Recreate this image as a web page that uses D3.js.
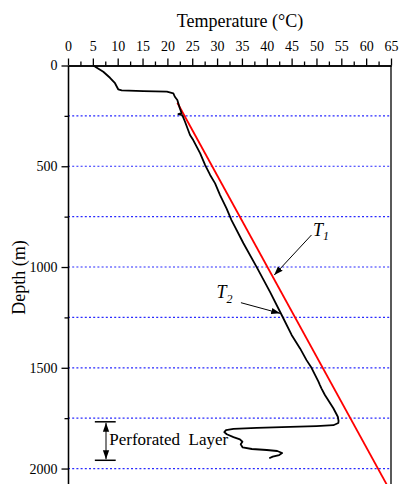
<!DOCTYPE html>
<html>
<head>
<meta charset="utf-8">
<script src="https://cdn.jsdelivr.net/npm/d3@7"></script>
<style>
  body { margin: 0; background: #fff; }
  svg { display: block; font-family: "Liberation Serif", "Times New Roman", serif; }
  .axis text { font-size: 14px; fill: #000; font-family: "Liberation Serif", "Times New Roman", serif; }
  .axis path, .axis line { stroke: #000; stroke-width: 1.3; }
</style>
</head>
<body>
<div id="chart"></div>
<script>
// axis ticks
const tempTicks = [0, 5, 10, 15, 20, 25, 30, 35, 40, 45, 50, 55, 60, 65];
const tempMinor = [2.5, 7.5, 12.5, 17.5, 22.5, 27.5, 32.5, 37.5, 42.5, 47.5, 52.5, 57.5, 62.5];
const depthTicks = [0, 500, 1000, 1500, 2000];
const depthMinor = [250, 750, 1250, 1750];
const gridDepths = [250, 500, 750, 1000, 1250, 1500, 1750, 2000];

// T1 - red straight gradient line
const t1Depth = [185, 2100];
const t1Temp = [22.0, 64.6];

// T2 - measured black profile
const t2Depth = [0, 11, 31, 61, 88, 118, 123, 127, 130, 138, 155, 171, 212, 236, 241, 246, 279, 345,
  370, 436, 494, 543, 585, 643, 709, 767, 882, 1002, 1123, 1238, 1337, 1404, 1462, 1500, 1569, 1586,
  1602, 1635, 1701, 1743, 1764, 1774, 1785, 1789, 1793, 1798, 1803, 1809, 1819, 1830, 1844, 1855,
  1867, 1880, 1895, 1903, 1908, 1913, 1923, 1933, 1941, 1949];
const t2Temp = [5.1, 5.8, 7.1, 8.45, 9.46, 10.1, 10.8, 15.15, 19.9, 21.2, 21.5, 22.0, 22.5, 22.85, 22.2, 23.0, 23.55, 24.55,
  25.2, 26.6, 27.6, 28.6, 29.6, 30.6, 31.9, 32.9, 35.3, 38.0, 40.65, 43.0, 45.0, 46.7, 48.0, 49.0, 50.4, 50.7,
  51.0, 51.7, 53.4, 54.3, 54.45, 54.4, 53.4, 50.0, 44.7, 38.0, 33.3, 31.8, 31.45, 31.95, 33.3, 34.6,
  35.1, 34.75, 35.15, 37.0, 40.0, 42.1, 43.1, 42.5, 41.2, 40.5];

const width = 399, height = 484;
const plotLeft = 68, plotRight = 391, plotTop = 65.5;

const svg = d3.select('#chart').append('svg')
  .attr('width', width)
  .attr('height', height);

const x = d3.scaleLinear().domain([0, 65]).range([plotLeft, plotRight]);
const y = d3.scaleLinear().domain([0, 2100]).range([plotTop, 488.7]);

// arrow head
svg.append('defs').append('marker')
  .attr('id', 'arrow')
  .attr('viewBox', '0 0 10 10')
  .attr('refX', 10).attr('refY', 5)
  .attr('markerWidth', 9).attr('markerHeight', 9)
  .attr('markerUnits', 'userSpaceOnUse')
  .attr('orient', 'auto-start-reverse')
  .append('path')
  .attr('d', 'M0,1.5 L10,5 L0,8.5 Z')
  .attr('fill', '#000');

// dotted grid
svg.append('g')
  .selectAll('line')
  .data(gridDepths)
  .join('line')
  .attr('x1', plotLeft).attr('x2', plotRight)
  .attr('y1', d => y(d)).attr('y2', d => y(d))
  .attr('stroke', '#2a2aff')
  .attr('stroke-width', 1.2)
  .attr('stroke-dasharray', '2,2.2');

// right border
svg.append('line')
  .attr('x1', plotRight).attr('x2', plotRight)
  .attr('y1', plotTop).attr('y2', height)
  .attr('stroke', '#000').attr('stroke-width', 1.3);

// axes
svg.append('g')
  .attr('class', 'axis')
  .attr('transform', `translate(0,${plotTop})`)
  .call(d3.axisTop(x).tickValues(tempMinor).tickSize(4).tickSizeOuter(0).tickFormat(''));
svg.append('g')
  .attr('class', 'axis')
  .attr('transform', `translate(0,${plotTop})`)
  .call(d3.axisTop(x).tickValues(tempTicks).tickSize(7).tickSizeOuter(0).tickPadding(8).tickFormat(d3.format('d')));

svg.append('g')
  .attr('class', 'axis')
  .attr('transform', `translate(${plotLeft},0)`)
  .call(d3.axisLeft(y).tickValues(depthMinor).tickSize(3.5).tickSizeOuter(0).tickFormat(''));
svg.append('g')
  .attr('class', 'axis')
  .attr('transform', `translate(${plotLeft},0)`)
  .call(d3.axisLeft(y).tickValues(depthTicks).tickSize(6.5).tickSizeOuter(0).tickPadding(4).tickFormat(d3.format('d')));

// axis titles
svg.append('text')
  .attr('x', 240).attr('y', 26.5)
  .attr('text-anchor', 'middle')
  .style('font-size', '18px')
  .text('Temperature (°C)');

svg.append('text')
  .attr('transform', 'translate(25,277.5) rotate(-90)')
  .attr('text-anchor', 'middle')
  .style('font-size', '18px')
  .text('Depth (m)');

// lines
const line = d3.line().x(d => x(d[1])).y(d => y(d[0]));

svg.append('path')
  .datum(d3.zip(t1Depth, t1Temp))
  .attr('d', line)
  .attr('fill', 'none')
  .attr('stroke', '#ff0000')
  .attr('stroke-width', 1.8);

svg.append('path')
  .datum(d3.zip(t2Depth, t2Temp))
  .attr('d', line)
  .attr('fill', 'none')
  .attr('stroke', '#000')
  .attr('stroke-width', 1.8)
  .attr('stroke-linejoin', 'round');

// T1 / T2 labels with arrows
function label(t, sub, depth) {
  const txt = svg.append('text')
    .attr('x', x(t)).attr('y', y(depth))
    .style('font-size', '18px')
    .style('font-style', 'italic');
  txt.append('tspan').text('T');
  txt.append('tspan').attr('dy', 4.5).style('font-size', '12px').text(sub);
}
label(49.3, '1', 846);
label(29.9, '2', 1155);

svg.append('line')
  .attr('x1', x(49.0)).attr('y1', y(841))
  .attr('x2', x(41.5)).attr('y2', y(1040))
  .attr('stroke', '#000').attr('stroke-width', 1)
  .attr('marker-end', 'url(#arrow)');

svg.append('line')
  .attr('x1', x(34.8)).attr('y1', y(1177))
  .attr('x2', x(42.7)).attr('y2', y(1230))
  .attr('stroke', '#000').attr('stroke-width', 1)
  .attr('marker-end', 'url(#arrow)');

// perforated layer bracket
const perfTop = 1768, perfBottom = 1959, perfX = 7.65;
svg.append('g')
  .selectAll('line')
  .data([perfTop, perfBottom])
  .join('line')
  .attr('x1', x(5.4)).attr('x2', x(9.6))
  .attr('y1', d => y(d)).attr('y2', d => y(d))
  .attr('stroke', '#000').attr('stroke-width', 1.5);

svg.append('line')
  .attr('x1', x(perfX)).attr('x2', x(perfX))
  .attr('y1', y(perfTop) + 1).attr('y2', y(perfBottom) - 1)
  .attr('stroke', '#000').attr('stroke-width', 1)
  .attr('marker-start', 'url(#arrow)')
  .attr('marker-end', 'url(#arrow)');

svg.append('text')
  .attr('x', x(8.3)).attr('y', y(1883))
  .style('font-size', '17px')
  .style('white-space', 'pre')
  .text('Perforated  Layer');
</script>
</body>
</html>
